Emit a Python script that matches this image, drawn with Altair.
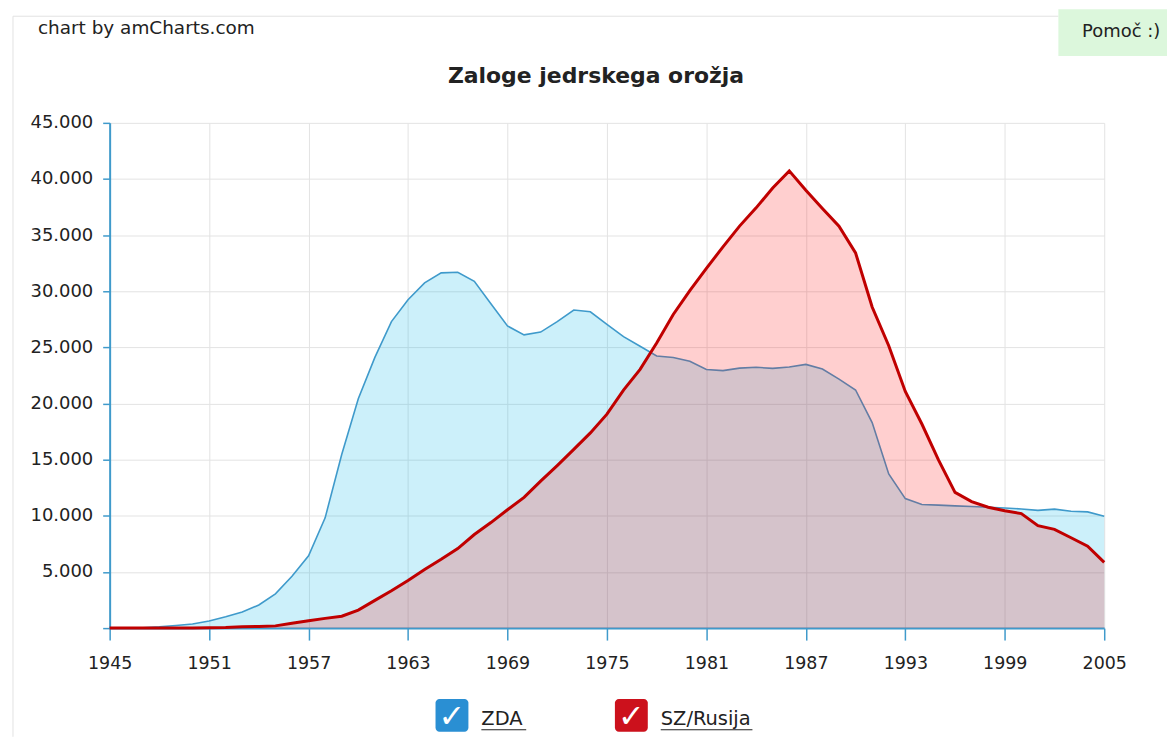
import altair as alt
import pandas as pd

# ---------------- data ----------------
years = [1945, 1946, 1947, 1948, 1949, 1950, 1951, 1952, 1953, 1954,
         1955, 1956, 1957, 1958, 1959, 1960, 1961, 1962, 1963, 1964,
         1965, 1966, 1967, 1968, 1969, 1970, 1971, 1972, 1973, 1974,
         1975, 1976, 1977, 1978, 1979, 1980, 1981, 1982, 1983, 1984,
         1985, 1986, 1987, 1988, 1989, 1990, 1991, 1992, 1993, 1994,
         1995, 1996, 1997, 1998, 1999, 2000, 2001, 2002, 2003, 2004,
         2005]

zda = [6, 11, 32, 110, 235, 369, 640, 1005, 1436, 2063,
       3057, 4618, 6444, 9822, 15468, 20434, 24111, 27297, 29249, 30751,
       31642, 31700, 30893, 28884, 26910, 26119, 26365, 27296, 28335, 28170,
       27052, 25956, 25099, 24243, 24107, 23764, 23031, 22937, 23154, 23228,
       23135, 23254, 23490, 23077, 22174, 21211, 18306, 13731, 11536, 11012,
       10953, 10886, 10829, 10763, 10698, 10615, 10491, 10600, 10404, 10350,
       9960]

rusija = [0, 0, 0, 0, 1, 5, 25, 50, 120, 150,
          200, 426, 660, 869, 1060, 1605, 2471, 3322, 4238, 5221,
          6129, 7089, 8339, 9399, 10538, 11643, 13092, 14478, 15915, 17385,
          19055, 21205, 23044, 25393, 27935, 30062, 32049, 33952, 35804, 37431,
          39197, 40723, 38992, 37364, 35805, 33417, 28595, 25155, 21074, 18179,
          14978, 12085, 11264, 10764, 10451, 10201, 9130, 8800, 8050, 7300,
          5860]

x_ticks = [1945, 1951, 1957, 1963, 1969, 1975, 1981, 1987, 1993, 1999, 2005]
y_ticks = [0, 5000, 10000, 15000, 20000, 25000, 30000, 35000, 40000, 45000]

title_text = "Zaloge jedrskega orožja"
credit_text = "chart by amCharts.com"
help_text = "Pomoč :)"
series_names = ["ZDA", "SZ/Rusija"]

df = pd.DataFrame({"leto": years, "ZDA": zda, "SZ/Rusija": rusija})
one = pd.DataFrame({"k": [0]})

FONT = "DejaVu Sans"
W, H = 998, 507
BLUE_LINE = "#3f9acb"
BLUE_FILL = "#00b4e6"
RED_LINE = "#c00000"
RED_FILL = "#ff0000"

x_enc = alt.X(
    "leto:Q",
    scale=alt.Scale(domain=[1945, 2005], nice=False, zero=False),
    axis=alt.Axis(
        values=x_ticks, format="d", title=None, grid=True, labelFlush=False,
        labelOverlap=False, tickSize=12, labelPadding=15, labelFontSize=17.5,
    ),
)


def y_enc(field):
    return alt.Y(
        f"{field}:Q",
        scale=alt.Scale(domain=[0, 45000], nice=False),
        axis=alt.Axis(
            values=y_ticks, title=None, grid=True, tickSize=7, labelPadding=10,
            labelFontSize=18, labelFlush=False, labelOverlap=False,
            labelExpr="datum.value == 0 ? '' : replace(format(datum.value, ','), ',', '.')",
        ),
    )


base = alt.Chart(df)

us_area = base.mark_area(fill=BLUE_FILL, fillOpacity=0.2).encode(x=x_enc, y=y_enc("ZDA"))
us_line = base.mark_line(color=BLUE_LINE, strokeWidth=1.6).encode(x="leto:Q", y="ZDA:Q")
ru_area = base.mark_area(fill=RED_FILL, fillOpacity=0.19).encode(x="leto:Q", y="SZ/Rusija:Q")
ru_line = base.mark_line(color=RED_LINE, strokeWidth=3).encode(x="leto:Q", y="SZ/Rusija:Q")


def txt(text, x, y, size, **kw):
    return alt.Chart(one).mark_text(
        text=text, font=FONT, fontSize=size, baseline="middle", **kw
    ).encode(x=alt.value(x), y=alt.value(y))


def rect(x, x2, y, y2, color, **kw):
    return alt.Chart(one).mark_rect(color=color, **kw).encode(
        x=alt.value(x), x2=alt.value(x2), y=alt.value(y), y2=alt.value(y2)
    )


def rule(x, x2, y, y2, color, width=1):
    return alt.Chart(one).mark_rule(color=color, strokeWidth=width).encode(
        x=alt.value(x), x2=alt.value(x2), y=alt.value(y), y2=alt.value(y2)
    )


deco = [
    # frame lines
    rule(-97, -97, -107, 616, "#e2e2e2"),
    rule(-97, 952, -107, -107, "#e2e2e2"),
    # help box
    rect(952, 1061, -114, -67, "#dcf7dc"),
    txt(help_text, 1015, -91, 18, align="center", color="#222"),
    # credit + title
    txt(credit_text, -72, -95, 18.5, align="left", color="#222"),
    txt(title_text, 488, -47, 22, align="center", fontWeight="bold", color="#222"),
    # legend
    rect(327, 360, 578, 611, "#2a8fd3", cornerRadius=4),
    txt("✓", 343.5, 596, 32, align="center", color="white"),
    txt(series_names[0], 373, 598, 19.5, align="left", color="#222"),
    rule(373, 418, 609, 609, "#222", 1.2),
    rect(507, 540, 578, 611, "#cc111c", cornerRadius=4),
    txt("✓", 523.5, 596, 32, align="center", color="white"),
    txt(series_names[1], 553, 598, 19.5, align="left", color="#222"),
    rule(553, 645, 609, 609, "#222", 1.2),
]

chart = alt.layer(us_area, us_line, ru_area, ru_line, *deco).properties(
    width=W, height=H,
    autosize=alt.AutoSizeParams(type="none"),
    padding={"left": 102, "top": 114, "right": 63, "bottom": 109},
).configure_view(stroke=None).configure_axis(
    labelFont=FONT, labelColor="#222", domainColor=BLUE_LINE, domainWidth=2,
    tickColor=BLUE_LINE, tickWidth=1.5, gridColor="#e3e3e3", gridWidth=1,
)

chart.save("out.html", embed_options={"renderer": "svg", "actions": False})
